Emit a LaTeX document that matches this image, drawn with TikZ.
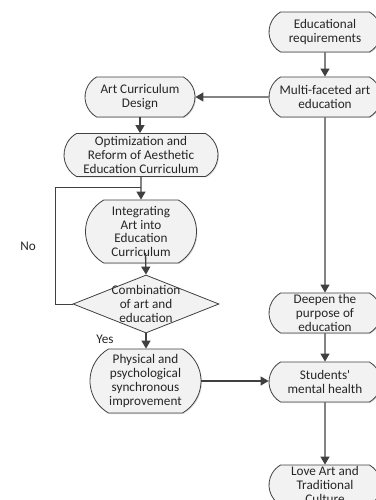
\documentclass[tikz,border=0pt]{standalone}
\usepackage{fontspec}
\setmainfont{Carlito}
\usetikzlibrary{shapes.misc,shapes.geometric,arrows.meta,shadows}
\definecolor{linegray}{HTML}{404040}
\definecolor{boxfill}{HTML}{F2F2F2}
\definecolor{txtgray}{HTML}{262626}

\begin{document}
\begin{tikzpicture}[x=1pt,y=-1pt,
    arrow/.style = {line width=1.3pt,draw=linegray,-{Triangle[length=8pt,width=9pt]}},
    line/.style = {line width=1pt,draw=linegray},
    term/.style = {rounded rectangle, rounded rectangle arc length=120, draw=linegray,
        line width=0.8pt, fill=boxfill, align=center, inner xsep=2pt, inner ysep=0pt,
        minimum width=116pt, minimum height=40pt, text=txtgray,
        drop shadow={shadow xshift=1pt, shadow yshift=-1pt, opacity=0.25},
        font=\fontsize{13.2}{13.7}\selectfont},
    decision/.style = {diamond, draw=linegray, line width=0.8pt, fill=boxfill,
        minimum width=146pt, minimum height=58pt, inner sep=0pt},
    txt/.style = {align=center, inner sep=0pt, text=txtgray,
        font=\fontsize{13.2}{13.7}\selectfont}]
    \useasboundingbox (0,0) rectangle (375,500);

    % right column
    \node [term] (req) at (325,32) {Educational\\requirements};
    \node [term] (multi) at (325,97) {Multi-faceted art\\education};
    \node [term] (deepen) at (325,313) {Deepen the\\purpose of\\education};
    \node [term] (health) at (325,382) {Students\textquotesingle\\mental health};
    \node [term] (love) at (325,485) {Love Art and\\Traditional\\Culture};

    % left column
    \node [term, minimum width=114pt] (design) at (140,97) {Art Curriculum\\Design};
    \node [term, minimum width=158pt, minimum height=43pt] (optim) at (141,155)
        {Optimization and\\Reform of Aesthetic\\Education Curriculum};
    \node [term, minimum width=115pt, minimum height=63pt] (integ) at (141,231.5)
        {Integrating\\Art into\\Education\\Curriculum};
    \node [decision] (comb) at (146,304) {};
    \node [txt] (combtext) at (comb) {Combination\\of art and\\education};
    \node [term, minimum width=115pt, minimum height=64pt] (phys) at (145.5,381)
        {Physical and\\psychological\\synchronous\\improvement};

    \node [txt] (no) at (28,246) {No};
    \node [txt] (yes) at (105,339) {Yes};

    \coordinate (join) at (141,187);
    \coordinate (loop) at (55,304);
    \coordinate (integout) at (145.5,253);

    \draw[arrow] (req) -- (multi);
    \draw[arrow] (multi) -- (design);
    \draw[arrow] (design.south) -- (design.south |- optim.north);
    \draw[arrow] (optim) -- (integ);
    \draw[line] (comb.west) -- (loop) |- (join);
    \draw[arrow] (integout) -- (comb.north);
    \draw[arrow] (comb.south) -- (comb.south |- phys.north);
    \draw[arrow] (phys.east) -- (phys.east -| health.west);
    \draw[arrow] (multi) -- (deepen);
    \draw[arrow] (deepen) -- (health);
    \draw[arrow] (health) -- (love);
\end{tikzpicture}
\end{document}
